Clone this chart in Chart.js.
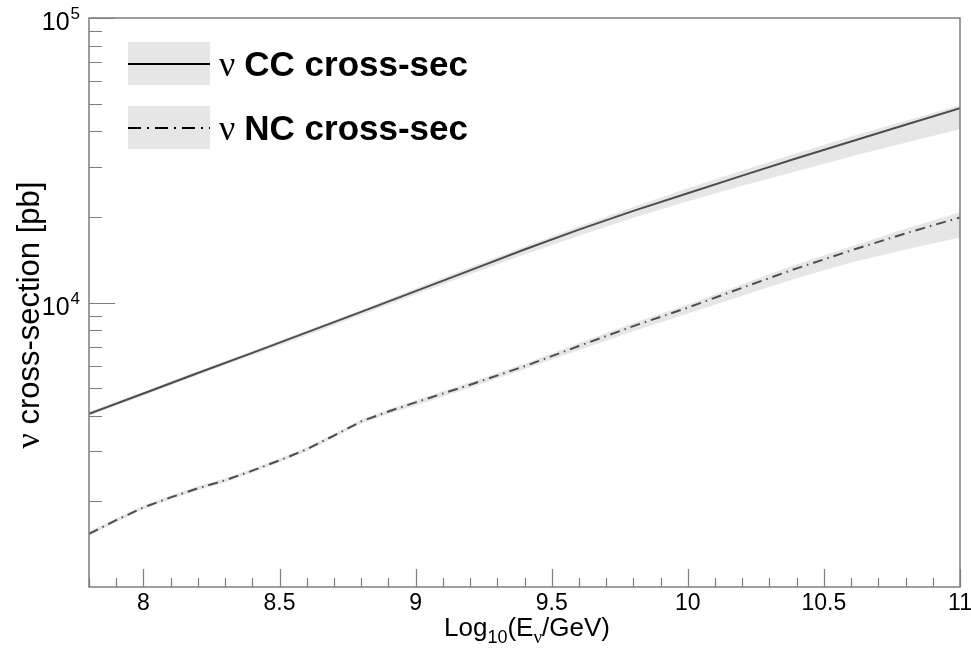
<!DOCTYPE html>
<html>
<head>
<meta charset="utf-8">
<script src="https://cdn.jsdelivr.net/npm/chart.js@4.4.0/dist/chart.umd.min.js"></script>
<style>
    html, body { margin: 0; padding: 0; background: #fff; }
    #wrap { width: 971px; height: 651px; }
</style>
</head>
<body>
<div id="wrap"><canvas id="xsecChart" width="971" height="651"></canvas></div>
<script>
// Energy grid is log10(E/GeV), cross sections in pb
var ccEnergy = [7.8, 8.0, 8.2, 8.4, 8.6, 8.8, 9.0, 9.2, 9.4, 9.6, 9.8, 10.0, 10.2, 10.4, 10.6, 10.8, 11.0];
var ccCentral = [4060, 4790, 5650, 6650, 7850, 9270, 10960, 12970, 15350, 18030, 20990, 24210, 27930, 32140, 36810, 42170, 48200];
var ccUpper = [4130, 4860, 5740, 6760, 7980, 9420, 11190, 13300, 15730, 18550, 21680, 25210, 29080, 33460, 38330, 43560, 49390];
var ccLower = [4000, 4710, 5560, 6520, 7660, 9040, 10660, 12560, 14740, 17180, 19840, 22690, 25750, 28920, 32600, 36440, 40650];

var ncEnergy = [7.8, 7.9, 8.0, 8.1, 8.2, 8.3, 8.4, 8.5, 8.6, 8.7, 8.8, 8.9, 9.0, 9.2, 9.4, 9.6, 9.8, 10.0, 10.2, 10.4, 10.6, 10.8, 11.0];
var ncCentral = [1538, 1718, 1905, 2065, 2223, 2371, 2564, 2786, 3048, 3404, 3819, 4140, 4457, 5140, 5970, 7031, 8260, 9594, 11270, 13180, 15240, 17500, 19910];
var ncUpper = [1563, 1746, 1936, 2099, 2259, 2410, 2606, 2831, 3097, 3459, 3882, 4207, 4529, 5248, 6095, 7211, 8472, 9840, 11600, 13620, 15740, 18150, 20740];
var ncLower = [1514, 1690, 1875, 2032, 2188, 2333, 2523, 2742, 2999, 3350, 3758, 4055, 4345, 5012, 5821, 6808, 7925, 9141, 10560, 12160, 13830, 15370, 16930];

// Axis ticks
var xMajorTicks = [8, 8.5, 9, 9.5, 10, 10.5, 11];
var xMinorStep = 0.1;
var yMajorTicks = [10000, 100000];
var yMajorLabels = [['10', '4'], ['10', '5']];
var yMinorMantissa = [2, 3, 4, 5, 6, 7, 8, 9];
var yDecades = [1000, 10000];

var BAND = '#e6e6e6';
var LINE = '#4d4d4d';
var FRAME = '#7d7d7d';
var SANS = '"Liberation Sans", Arial, sans-serif';
var SERIF = '"Liberation Serif", "Times New Roman", serif';

function pts(xs, ys) {
    return xs.map(function (x, i) { return { x: x, y: ys[i] }; });
}

// ROOT-like frame, inner ticks, labels, titles and legend
var rootStyle = {
    id: 'rootStyle',
    afterDatasetsDraw: function (chart) {
        var ctx = chart.ctx;
        var a = chart.chartArea;
        var xs = chart.scales.x, ys = chart.scales.y;
        ctx.save();

        // frame
        ctx.strokeStyle = FRAME;
        ctx.lineWidth = 1.5;
        ctx.strokeRect(a.left, a.top, a.right - a.left, a.bottom - a.top);

        // x ticks (inside, from the bottom edge)
        ctx.beginPath();
        var n = Math.round((xs.max - xs.min) / xMinorStep);
        for (var i = 0; i <= n; i++) {
            var v = Math.round((xs.min + i * xMinorStep) * 10) / 10;
            var px = Math.round(xs.getPixelForValue(v)) + 0.5;
            var len = xMajorTicks.indexOf(v) >= 0 ? 18 : 9;
            ctx.moveTo(px, a.bottom);
            ctx.lineTo(px, a.bottom - len);
        }
        // y ticks (inside, from the left edge)
        yDecades.forEach(function (d) {
            yMinorMantissa.forEach(function (m) {
                var py = Math.round(ys.getPixelForValue(m * d)) + 0.5;
                ctx.moveTo(a.left, py);
                ctx.lineTo(a.left + 13, py);
            });
        });
        yMajorTicks.forEach(function (t) {
            var py = Math.round(ys.getPixelForValue(t)) + 0.5;
            ctx.moveTo(a.left, py);
            ctx.lineTo(a.left + 26, py);
        });
        ctx.lineWidth = 1.2;
        ctx.stroke();

        // y labels 10^n
        ctx.fillStyle = '#000';
        ctx.textBaseline = 'alphabetic';
        yMajorTicks.forEach(function (t, i) {
            var py = ys.getPixelForValue(t);
            ctx.font = '17px ' + SANS;
            ctx.textAlign = 'right';
            var ex = yMajorLabels[i][1];
            var exW = ctx.measureText(ex).width;
            ctx.fillText(ex, a.left - 9, py + 1);
            ctx.font = '25px ' + SANS;
            ctx.fillText(yMajorLabels[i][0], a.left - 10 - exW, py + 12);
        });

        // x title: Log10(Ev/GeV)
        var parts = [
            ['Log', '26px ' + SANS, 0],
            ['10', '18px ' + SANS, 7],
            ['(E', '26px ' + SANS, 0],
            ['\u03bd', '19px ' + SERIF, 7],
            ['/GeV)', '26px ' + SANS, 0]
        ];
        var total = 0;
        parts.forEach(function (p) { ctx.font = p[1]; total += ctx.measureText(p[0]).width; });
        var x0 = 527 - total / 2;
        ctx.textAlign = 'left';
        parts.forEach(function (p) {
            ctx.font = p[1];
            ctx.fillText(p[0], x0, 636 + p[2]);
            x0 += ctx.measureText(p[0]).width;
        });

        // y title (rotated)
        ctx.save();
        ctx.translate(39, 315);
        ctx.rotate(-Math.PI / 2);
        var t1 = '\u03bd ', t2 = 'cross-section [pb]';
        ctx.font = '34px ' + SERIF;
        var w1 = ctx.measureText(t1).width;
        ctx.font = '31px ' + SANS;
        var w2 = ctx.measureText(t2).width;
        var sx = -(w1 + w2) / 2;
        ctx.font = '34px ' + SERIF;
        ctx.fillText(t1, sx, 0);
        ctx.font = '31px ' + SANS;
        ctx.fillText(t2, sx + w1, 0);
        ctx.restore();

        // legend
        var entries = chart.data.datasets.filter(function (d) { return d.inLegend; });
        entries.forEach(function (d, i) {
            var top = 42 + i * 64;
            ctx.fillStyle = BAND;
            ctx.fillRect(128, top, 82, 43);
            ctx.beginPath();
            ctx.setLineDash(d.legendDash || []);
            ctx.strokeStyle = '#000';
            ctx.lineWidth = 1.8;
            ctx.moveTo(128, top + 22);
            ctx.lineTo(210, top + 22);
            ctx.stroke();
            ctx.setLineDash([]);
            ctx.fillStyle = '#000';
            ctx.font = '36px ' + SERIF;
            ctx.fillText('\u03bd', 219, top + 34);
            var nw = ctx.measureText('\u03bd ').width;
            ctx.font = 'bold 35px ' + SANS;
            ctx.fillText(d.label.slice(2), 219 + nw, top + 34);
        });
        ctx.restore();
    }
};

var ctx = document.getElementById('xsecChart').getContext('2d');
var myChart = new Chart(ctx, {
    type: 'line',
    data: {
        datasets: [
            { label: 'CC band up', order: 2, data: pts(ccEnergy, ccUpper), fill: '+1', backgroundColor: BAND, borderWidth: 0, pointRadius: 0 },
            { label: 'CC band low', order: 2, data: pts(ccEnergy, ccLower), fill: false, borderWidth: 0, pointRadius: 0 },
            { label: 'NC band up', order: 2, data: pts(ncEnergy, ncUpper), fill: '+1', backgroundColor: BAND, borderWidth: 0, pointRadius: 0 },
            { label: 'NC band low', order: 2, data: pts(ncEnergy, ncLower), fill: false, borderWidth: 0, pointRadius: 0 },
            {
                label: '\u03bd CC cross-sec', inLegend: true, order: 0,
                data: pts(ccEnergy, ccCentral), fill: false,
                borderColor: LINE, borderWidth: 2, pointRadius: 0
            },
            {
                label: '\u03bd NC cross-sec', inLegend: true, order: 0, legendDash: [13, 6, 2, 6],
                data: pts(ncEnergy, ncCentral), fill: false,
                borderColor: LINE, borderWidth: 2, borderDash: [10, 5, 1.5, 5], pointRadius: 0
            }
        ]
    },
    options: {
        responsive: false,
        animation: false,
        events: [],
        layout: { padding: { top: 18, right: 11, left: 0, bottom: 0 } },
        plugins: { legend: { display: false }, tooltip: { enabled: false } },
        scales: {
            x: {
                type: 'linear',
                min: 7.8,
                max: 11,
                grid: { display: false, drawTicks: false },
                border: { display: false },
                afterBuildTicks: function (scale) {
                    scale.ticks = xMajorTicks.map(function (v) { return { value: v }; });
                },
                ticks: {
                    font: { family: SANS, size: 23 },
                    color: '#000',
                    padding: 3,
                    maxRotation: 0,
                    autoSkip: false,
                    callback: function (v) { return String(v); }
                },
                afterFit: function (scale) {
                    scale.height = 64;
                    scale.paddingLeft = 0;
                    scale.paddingRight = 0;
                }
            },
            y: {
                type: 'logarithmic',
                min: 1000,
                max: 100000,
                grid: { display: false, drawTicks: false },
                border: { display: false },
                ticks: { display: false },
                afterFit: function (scale) {
                    scale.width = 89;
                    scale.paddingTop = 0;
                    scale.paddingBottom = 0;
                }
            }
        }
    },
    plugins: [rootStyle]
});
</script>
</body>
</html>
